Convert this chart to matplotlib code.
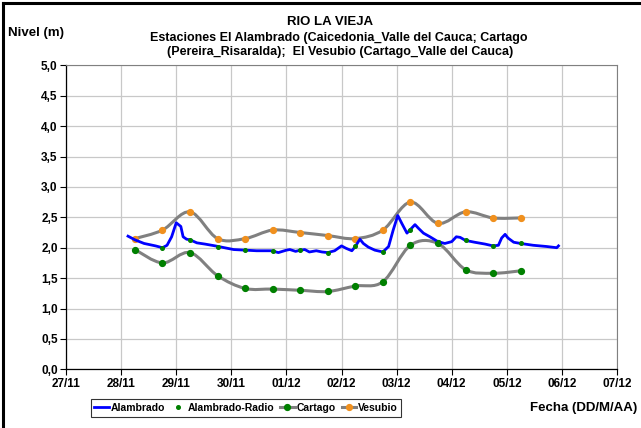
import matplotlib
matplotlib.use("Agg")
import matplotlib.pyplot as plt
import matplotlib.dates as mdates
import numpy as np
import pandas as pd
from matplotlib.lines import Line2D
from matplotlib.path import Path
from matplotlib.patches import PathPatch
from matplotlib.ticker import FuncFormatter, MultipleLocator

plt.rcParams["font.family"] = ["Liberation Sans", "DejaVu Sans"]
plt.rcParams["font.weight"] = "bold"

# Alambrado (serie continua)
alambrado_fecha = [
    "2011-11-28 03:00", "2011-11-28 06:00", "2011-11-28 10:00", "2011-11-28 15:00",
    "2011-11-28 18:00", "2011-11-28 20:00", "2011-11-28 22:00", "2011-11-29 00:00",
    "2011-11-29 02:00", "2011-11-29 03:00", "2011-11-29 04:30", "2011-11-29 06:00",
    "2011-11-29 09:00", "2011-11-29 12:30", "2011-11-29 17:00", "2011-11-29 21:00",
    "2011-11-30 01:00", "2011-11-30 06:00", "2011-11-30 11:00", "2011-11-30 17:30",
    "2011-11-30 20:30", "2011-12-01 00:00", "2011-12-01 01:30", "2011-12-01 04:00",
    "2011-12-01 06:00", "2011-12-01 08:00", "2011-12-01 10:00", "2011-12-01 13:00",
    "2011-12-01 15:30", "2011-12-01 18:00", "2011-12-01 21:00", "2011-12-02 00:00",
    "2011-12-02 02:00", "2011-12-02 04:30", "2011-12-02 06:00", "2011-12-02 08:00",
    "2011-12-02 09:30", "2011-12-02 11:40", "2011-12-02 14:30", "2011-12-02 18:00",
    "2011-12-02 20:30", "2011-12-02 22:30", "2011-12-03 00:30", "2011-12-03 02:15",
    "2011-12-03 04:30", "2011-12-03 06:00", "2011-12-03 08:00", "2011-12-03 09:30",
    "2011-12-03 11:40", "2011-12-03 14:30", "2011-12-03 18:00", "2011-12-03 21:00",
    "2011-12-04 00:00", "2011-12-04 02:00", "2011-12-04 03:40", "2011-12-04 06:00",
    "2011-12-04 10:00", "2011-12-04 14:30", "2011-12-04 18:00", "2011-12-04 20:20",
    "2011-12-04 21:45", "2011-12-04 23:15", "2011-12-05 00:30", "2011-12-05 03:00",
    "2011-12-05 06:00", "2011-12-05 11:30", "2011-12-05 17:20", "2011-12-05 21:45",
    "2011-12-05 22:30",
]
alambrado_nivel = [
    2.19, 2.13, 2.07, 2.03, 2.00, 2.04, 2.18, 2.41,
    2.35, 2.18, 2.14, 2.13, 2.08, 2.06, 2.03, 2.00,
    1.97, 1.96, 1.95, 1.95, 1.92, 1.96, 1.97, 1.94,
    1.96, 1.97, 1.93, 1.95, 1.93, 1.92, 1.95, 2.03,
    1.99, 1.95, 2.02, 2.14, 2.07, 2.01, 1.96, 1.93,
    2.02, 2.29, 2.53, 2.40, 2.24, 2.30, 2.38, 2.32,
    2.24, 2.18, 2.10, 2.07, 2.10, 2.18, 2.17, 2.12,
    2.09, 2.06, 2.03, 2.04, 2.16, 2.22, 2.16, 2.09,
    2.07, 2.04, 2.02, 2.00, 2.03,
]

# Alambrado-Radio, Cartago y Vesubio (lecturas cada 12 h)
radio_fecha = pd.date_range("2011-11-28 18:00", "2011-12-05 06:00", freq="12h")
radio_nivel = [2.00, 2.13, 2.01, 1.96, 1.95, 1.97, 1.92, 2.03, 1.93, 2.29, 2.09, 2.12, 2.03, 2.07]

estacion_fecha = pd.date_range("2011-11-28 06:00", "2011-12-05 06:00", freq="12h")
cartago_nivel = [1.97, 1.75, 1.92, 1.54, 1.33, 1.32, 1.30, 1.28, 1.37, 1.44, 2.04, 2.07, 1.64, 1.58, 1.62]
vesubio_nivel = [2.15, 2.29, 2.59, 2.15, 2.15, 2.29, 2.25, 2.20, 2.15, 2.29, 2.75, 2.40, 2.59, 2.49, 2.49]

GRIS = "#808080"
VERDE = "#008000"
NARANJA = "#F0901E"
AZUL = "#0000FF"


def curva_suave(x, y):
    """Path de Bezier tipo 'linea suavizada' de Excel."""
    pts = np.column_stack([x, y])
    n = len(pts)
    verts = [pts[0]]
    codes = [Path.MOVETO]
    for i in range(n - 1):
        p0 = pts[i - 1] if i > 0 else pts[i]
        p1 = pts[i]
        p2 = pts[i + 1]
        p3 = pts[i + 2] if i + 2 < n else pts[i + 1]
        verts += [p1 + (p2 - p0) / 6, p2 - (p3 - p1) / 6, p2]
        codes += [Path.CURVE4] * 3
    return Path(verts, codes)


fig = plt.figure(figsize=(6.41, 4.28), dpi=100)
ax = fig.add_axes([0.103, 0.1371, 0.8596, 0.7103])

xe = mdates.date2num(estacion_fecha)
for niveles, color in [(cartago_nivel, VERDE), (vesubio_nivel, NARANJA)]:
    ax.add_patch(PathPatch(curva_suave(xe, np.array(niveles)), fill=False,
                           edgecolor=GRIS, lw=2.2, zorder=3, capstyle="round"))
    ax.plot(estacion_fecha, niveles, ls="none", marker="o", ms=4.2,
            color=color, zorder=4)

ax.plot(pd.to_datetime(alambrado_fecha), alambrado_nivel, color=AZUL, lw=2.0, zorder=5)
ax.plot(radio_fecha, radio_nivel, ls="none", marker="o", ms=2.6, color=VERDE, zorder=6)

ax.set_xlim(pd.Timestamp("2011-11-27"), pd.Timestamp("2011-12-07"))
ax.set_ylim(0, 5)
ax.xaxis.set_major_locator(mdates.DayLocator())
ax.xaxis.set_major_formatter(mdates.DateFormatter("%d/%m"))
ax.yaxis.set_major_locator(MultipleLocator(0.5))
ax.yaxis.set_major_formatter(FuncFormatter(lambda v, p: f"{v:.1f}".replace(".", ",")))
ax.grid(True, color="#C8C8C8", lw=0.9)
ax.set_axisbelow(True)
ax.tick_params(labelsize=8.5, length=4, width=0.8, direction="out", pad=2)
for lbl in ax.get_xticklabels() + ax.get_yticklabels():
    lbl.set_fontweight("bold")
for s in ["top", "right"]:
    ax.spines[s].set_color(GRIS)
for s in ["left", "bottom"]:
    ax.spines[s].set_color("black")
    ax.spines[s].set_linewidth(0.9)

fig.text(330 / 641, 1 - 22 / 428, "RIO LA VIEJA", ha="center", va="center",
         fontsize=9.5, fontweight="bold")
fig.text(339 / 641, 1 - 38 / 428,
         "Estaciones El Alambrado (Caicedonia_Valle del Cauca; Cartago",
         ha="center", va="center", fontsize=9, fontweight="bold")
fig.text(340 / 641, 1 - 52 / 428,
         "(Pereira_Risaralda);  El Vesubio (Cartago_Valle del Cauca)",
         ha="center", va="center", fontsize=9, fontweight="bold")
fig.text(8 / 641, 1 - 33 / 428, "Nivel (m)", ha="left", va="center",
         fontsize=9.5, fontweight="bold")
fig.text(637 / 641, 1 - 408 / 428, "Fecha (DD/M/AA)", ha="right", va="center",
         fontsize=9.5, fontweight="bold")

handles = [
    Line2D([], [], color=AZUL, lw=2.0),
    Line2D([], [], ls="none", marker="o", ms=2.6, color=VERDE),
    Line2D([], [], color=GRIS, lw=2.2, marker="o", ms=4.2, mfc=VERDE, mec=VERDE),
    Line2D([], [], color=GRIS, lw=2.2, marker="o", ms=4.2, mfc=NARANJA, mec=NARANJA),
]
leg = fig.legend(handles, ["Alambrado", "Alambrado-Radio", "Cartago", "Vesubio"],
                 loc="center", bbox_to_anchor=(246 / 641, 1 - 408 / 428), ncol=4,
                 fontsize=7.5, frameon=True, fancybox=False, edgecolor="black",
                 handlelength=1.4, handletextpad=0.15, columnspacing=0.6,
                 borderpad=0.35, borderaxespad=0)
leg.get_frame().set_linewidth(0.8)
for t in leg.get_texts():
    t.set_fontweight("bold")

# marco exterior
fig.add_artist(Line2D([3 / 641, 3 / 641], [0, 1 - 3 / 428], color="black", lw=2.2,
                      transform=fig.transFigure))
fig.add_artist(Line2D([3 / 641, 1], [1 - 3 / 428, 1 - 3 / 428], color="black", lw=2.2,
                      transform=fig.transFigure))

fig.savefig("out.png", dpi=100)
plt.close(fig)
